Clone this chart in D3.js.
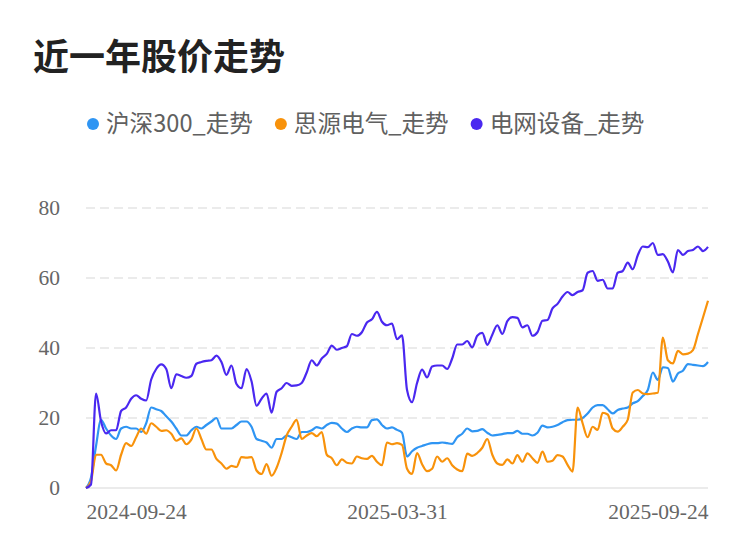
<!DOCTYPE html>
<html><head><meta charset="utf-8">
<script src="https://cdn.jsdelivr.net/npm/d3@7"></script>
<style>body{margin:0;background:#fff;} svg{display:block}</style>
</head><body><svg id="c" width="750" height="558"></svg>
<script>
const title = "近一年股价走势";
const seriesNames = ["沪深300_走势", "思源电气_走势", "电网设备_走势"];
const xTickLabels = ["2024-09-24", "2025-03-31", "2025-09-24"];
const yTicks = [0, 20, 40, 60, 80];

const hs300 = [
  0, 3, 12, 19.5, 17, 15, 14, 17, 17.5, 17,
  17, 16, 18.5, 23, 22.5, 22, 20.5, 19, 17, 15,
  15, 16.5, 17.5, 17, 18, 19, 20, 17, 17, 17,
  18, 19, 19, 17.5, 14, 13.5, 13, 11.5, 14, 14,
  15, 14.5, 14, 16, 16, 16.5, 17.4, 17, 18, 18.6,
  18.4, 17, 16, 17, 17.5, 17.3, 17.3, 19.4, 19.6, 18,
  17, 17.3, 16.6, 15.8, 9, 10.5, 11.5, 12, 12.5, 12.8,
  12.8, 13, 12.8, 12.6, 14.5, 15.5, 17, 16.2, 16.3, 16.8,
  15.8, 15, 15.2, 15.4, 15.7, 15.7, 16.3, 15.5, 15.5, 15,
  15.8, 17.8, 17.3, 17.5, 18, 18.8, 19.4, 19.5, 19.5, 20,
  21.3, 23, 23.7, 23.7, 22.5, 21.3, 22.3, 22.7, 23, 24.2,
  24.8, 26.3, 28, 33, 30.9, 34.5, 34.3, 30.4, 32.7, 33.5,
  35.4, 35.2, 35, 34.8, 36
];
const siyuan = [
  0, 2, 9.5, 9.5, 7, 6.5, 5, 9.5, 12.8, 12,
  14.5, 17, 15.5, 18.5, 17.5, 16.3, 16.5, 15.5, 13.5, 14.2,
  12.5, 13.8, 17, 14, 11, 11, 8.3, 7, 5.5, 6.3,
  6, 8.8, 8.7, 8.8, 5, 4, 6.8, 3.5, 5.8, 10,
  15, 17.5, 19.5, 14, 15, 15.7, 14.8, 16, 9.5, 8.5,
  6.5, 8.2, 7.2, 7, 9, 8.5, 8.3, 9.2, 7.5, 6.5,
  13, 12.5, 12.8, 12.3, 5.5, 4, 10, 6.8, 4.8, 5.5,
  9, 7.5, 8.5, 6.5, 5.3, 4.8, 9.8, 9.2, 10, 11.5,
  14, 9.5, 7, 6.6, 8.2, 7, 9.4, 7.5, 9.9, 8.5,
  7.2, 10.4, 7.5, 7.8, 9.4, 9, 6.6, 4.7, 23, 18.5,
  14.5, 17.5, 16.6, 21.5, 21, 17, 16.1, 17.5, 19.5, 27.3,
  28, 27, 26.8, 27, 27.2, 43, 36.5, 35.6, 39.2, 38.2,
  38.4, 39.4, 44, 48.7, 53.5
];
const gridEquip = [
  0, 1, 27, 19, 15.6, 16.5, 16.5, 22, 23, 25.5,
  26.5, 25.5, 25, 31, 34, 35.3, 34, 28.5, 32.5, 32,
  31.5, 32, 35.5, 36, 36.3, 36.5, 37.8, 36, 32.3, 35,
  29.7, 28.5, 34, 30.5, 23.5, 25.5, 27, 21.5, 27.5, 28.5,
  30, 29.2, 29.3, 30, 33, 36.5, 35, 37, 38.3, 40.7,
  39.5, 40, 40.5, 44, 43.5, 44.5, 47.3, 48.2, 50.3, 47.5,
  46.5, 47, 42.5, 43.6, 28, 24.5, 30, 33.8, 31.6, 34.7,
  35, 35, 34, 37, 41, 41, 42, 40.2, 43.5, 44.3,
  40.9, 43.8, 46.5, 44, 47.7, 48.8, 48.6, 45.9, 46.5, 43.5,
  44.5, 47.8, 48, 51.3, 52.6, 54.7, 56, 55.1, 56, 56.5,
  61.5, 62, 59.2, 59.5, 57, 57, 61.5, 62, 64.4, 62.5,
  66.5, 69, 68.8, 70, 66.6, 66.8, 64.7, 61.6, 68, 66.6,
  67.7, 68, 69, 67.7, 68.9
];

const colors = ["#2F95F3", "#F8920B", "#4A28F0"];
const allSeries = [hs300, siyuan, gridEquip];
const n = hs300.length;

const svg = d3.select("#c");
const plotLeft = 86, plotRight = 708, plotTop = 208, plotBottom = 488;

const x = d3.scaleLinear().domain([0, n - 1]).range([plotLeft, plotRight]);
const y = d3.scaleLinear().domain([0, 80]).range([plotBottom, plotTop]);

// Title
svg.append("text")
  .attr("x", 33).attr("y", 70)
  .attr("font-family", "'Noto Sans CJK SC', sans-serif")
  .attr("font-weight", "bold")
  .attr("font-size", 36)
  .attr("fill", "#222")
  .text(title);

// Legend
const legend = svg.append("g");
let lx = 87;
seriesNames.forEach((name, i) => {
  legend.append("circle").attr("cx", lx + 6).attr("cy", 124).attr("r", 6).attr("fill", colors[i]);
  const t = legend.append("text")
    .attr("x", lx + 19).attr("y", 124).attr("dy", "0.36em")
    .attr("font-family", "'Noto Sans CJK SC', sans-serif")
    .attr("font-size", 23.6)
    .attr("fill", "#606060")
    .text(name);
  lx += 19 + t.node().getComputedTextLength() + 22;
});

// Grid lines
svg.append("g").selectAll("line").data(yTicks).join("line")
  .attr("x1", plotLeft).attr("x2", plotRight)
  .attr("y1", d => y(d)).attr("y2", d => y(d))
  .attr("stroke", "#ebebeb")
  .attr("stroke-width", 2)
  .attr("stroke-dasharray", d => d === 0 ? null : "9,5");

// Y axis
const yAxis = svg.append("g").attr("transform", `translate(${plotLeft},0)`)
  .call(d3.axisLeft(y).tickValues(yTicks).tickSize(0).tickPadding(26));
yAxis.select(".domain").remove();
yAxis.selectAll("text")
  .attr("font-family", "'Liberation Serif', 'Times New Roman', serif")
  .attr("font-size", 21.5)
  .attr("fill", "#666");

// X axis
const xTickIdx = [0, (n - 1) / 2, n - 1];
const xAxis = svg.append("g").attr("transform", `translate(0,${plotBottom})`)
  .call(d3.axisBottom(x).tickValues(xTickIdx).tickSize(0).tickPadding(16)
    .tickFormat((d, i) => xTickLabels[i]));
xAxis.select(".domain").remove();
xAxis.selectAll("text")
  .attr("font-family", "'Liberation Serif', 'Times New Roman', serif")
  .attr("font-size", 21.5)
  .attr("fill", "#666")
  .attr("text-anchor", (d, i) => i === 0 ? "start" : (i === 2 ? "end" : "middle"));

// Lines
const line = d3.line().x((d, i) => x(i)).y(d => y(d)).curve(d3.curveMonotoneX);
svg.append("g").selectAll("path").data(allSeries).join("path")
  .attr("d", d => line(d))
  .attr("fill", "none")
  .attr("stroke", (d, i) => colors[i])
  .attr("stroke-width", 2.2)
  .attr("stroke-linejoin", "round");
</script>
</body></html>
